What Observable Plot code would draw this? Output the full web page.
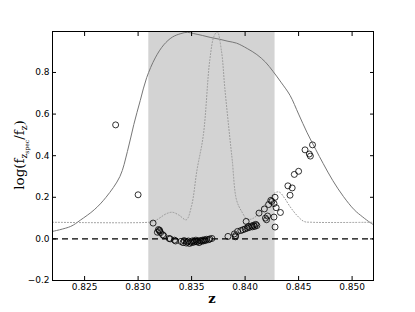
<!DOCTYPE html>
<html>
<head>
<meta charset="utf-8">
<script src="https://cdn.jsdelivr.net/npm/d3@7"></script>
<script src="https://cdn.jsdelivr.net/npm/@observablehq/plot@0.6"></script>
<style>
html,body{margin:0;padding:0;background:#fff;}
#chart{width:415px;height:312px;}
</style>
</head>
<body>
<div id="chart"></div>
<script>
// x tick values and y tick values
const xTicks = [0.825, 0.830, 0.835, 0.840, 0.845, 0.850];
const yTicks = [-0.2, 0.0, 0.2, 0.4, 0.6, 0.8];
// highlighted redshift interval
const spanZ = [0.8310, 0.8428];

// solid curve (filter-like response)
const solidZ = [0.8220,0.8237,0.8246,0.8259,0.8270,0.8283,0.8290,0.8296,0.8302,0.8308,0.8316,0.8324,0.8332,0.8340,0.8346,0.8352,0.8360,0.8368,0.8376,0.8384,0.8392,0.8402,0.8411,0.8419,0.8426,0.8434,0.8442,0.8450,0.8458,0.8466,0.8473,0.8482,0.8492,0.8502,0.8510,0.8517,0.8520];
const solidV = [0.036,0.060,0.090,0.140,0.200,0.300,0.420,0.550,0.665,0.775,0.870,0.933,0.970,0.987,0.993,0.987,0.978,0.968,0.960,0.950,0.941,0.915,0.886,0.850,0.806,0.750,0.690,0.600,0.510,0.430,0.362,0.280,0.203,0.140,0.105,0.078,0.068];

// dotted curve
const dottedZ = [0.8220,0.8310,0.8315,0.8320,0.8326,0.8332,0.8338,0.8345,0.8350,0.8355,0.8361,0.8367,0.8371,0.8374,0.8378,0.8381,0.8386,0.8388,0.8392,0.8397,0.8402,0.8408,0.8415,0.8422,0.8428,0.8432,0.8437,0.8442,0.8449,0.8455,0.8462,0.8520];
const dottedV = [0.080,0.080,0.085,0.100,0.120,0.128,0.115,0.092,0.160,0.330,0.500,0.860,0.975,0.995,0.900,0.727,0.473,0.378,0.187,0.130,0.095,0.100,0.140,0.190,0.222,0.225,0.195,0.155,0.110,0.084,0.080,0.080];

// scatter points
const ptZ = [0.8279,0.8300,0.8314,0.8319,0.8320,0.8318,0.8321,0.8320,0.8323,0.8324,0.8329,0.8330,0.8334,0.8335,0.8340,0.8342,0.8343,0.8345,0.8346,0.8347,0.8348,0.8349,0.8350,0.8351,0.8352,0.8353,0.8354,0.8355,0.8356,0.8357,0.8358,0.8359,0.8360,0.8361,0.8362,0.8363,0.8364,0.8366,0.8367,0.8369,
 0.8384,0.8390,0.8391,0.8391,0.8393,0.8396,0.8398,0.8400,0.8401,0.8402,0.8403,0.8404,0.8406,0.8407,0.8408,0.8409,0.8410,0.8411,0.8413,0.8418,0.8419,0.8420,0.8421,0.8422,0.8424,0.8425,0.8427,0.8428,0.8428,0.8427,0.8429,0.8433,0.8440,0.8442,0.8444,0.8446,0.8450,0.8456,0.8460,0.8461,0.8463];
const ptV = [0.548,0.212,0.076,0.045,0.038,0.032,0.030,0.042,0.020,0.015,0.002,0.000,-0.006,-0.010,-0.012,-0.018,-0.008,-0.020,-0.015,-0.010,-0.022,-0.014,-0.018,-0.009,-0.016,-0.012,-0.006,-0.014,-0.010,-0.018,-0.008,-0.012,-0.006,-0.010,-0.004,-0.008,-0.002,-0.004,0.000,0.002,
 0.012,0.024,0.010,0.016,0.036,0.040,0.044,0.048,0.084,0.052,0.060,0.055,0.062,0.058,0.066,0.060,0.070,0.064,0.124,0.144,0.100,0.092,0.110,0.165,0.185,0.180,0.170,0.200,0.057,0.105,0.150,0.127,0.255,0.210,0.245,0.310,0.325,0.428,0.408,0.398,0.452];

const solid = solidZ.map((z,i)=>({z, v: solidV[i]}));
const dotted = dottedZ.map((z,i)=>({z, v: dottedV[i]}));
const pts = ptZ.map((z,i)=>({z, v: ptV[i]}));

const fmtX = d => d.toFixed(3);
const fmtY = d => (d < 0 ? "\u2212" : "") + Math.abs(d).toFixed(1);

const plot = Plot.plot({
  width: 415,
  height: 312,
  marginLeft: 52,
  marginRight: 42,
  marginTop: 31,
  marginBottom: 32,
  style: {fontFamily: "DejaVu Sans", fontSize: "9px", color: "black", background: "white"},
  x: {domain: [0.822, 0.852]},
  y: {domain: [-0.2, 0.997]},
  marks: [
    Plot.rect([spanZ], {x1: d => d[0], x2: d => d[1], fill: "#d3d3d3"}),
    Plot.line(solid, {x: "z", y: "v", stroke: "#777", strokeWidth: 1, curve: "catmull-rom"}),
    Plot.line(dotted, {x: "z", y: "v", stroke: "#999", strokeWidth: 1, strokeDasharray: "1,2", curve: "catmull-rom"}),
    Plot.ruleY([0], {stroke: "black", strokeWidth: 1.3, strokeDasharray: "6,4"}),
    Plot.dot(pts, {x: "z", y: "v", r: 3, stroke: "black", fill: "none", strokeWidth: 0.8}),
    Plot.axisX(xTicks, {anchor: "bottom", tickSize: -4, tickPadding: 7, tickFormat: fmtX, label: null}),
    Plot.axisX(xTicks, {anchor: "top", tickSize: -4, tickFormat: () => "", label: null}),
    Plot.axisY(yTicks, {anchor: "left", tickSize: -4, tickPadding: 7, tickFormat: fmtY, label: null}),
    Plot.axisY(yTicks, {anchor: "right", tickSize: -4, tickFormat: () => "", label: null}),
    Plot.frame({stroke: "black", strokeWidth: 1})
  ]
});

const svg = d3.select(plot);
// y label
const yl = svg.append("text")
  .attr("transform", "translate(24,155) rotate(-90)")
  .attr("text-anchor", "middle")
  .attr("font-family", "DejaVu Serif")
  .attr("font-size", 13.5)
  .attr("fill", "black");
yl.append("tspan").text("log(f");
yl.append("tspan").attr("font-size", 9).attr("dy", 3).text("z");
yl.append("tspan").attr("font-size", 6).attr("dy", 2).text("spec");
yl.append("tspan").attr("dy", -5).text("/f");
yl.append("tspan").attr("font-size", 9).attr("dy", 3).text("z");
yl.append("tspan").attr("dy", -3).text(")");
// x label
svg.append("text")
  .attr("x", 212).attr("y", 303)
  .attr("text-anchor", "middle")
  .attr("font-family", "DejaVu Serif")
  .attr("font-size", 13)
  .attr("font-weight", "bold")
  .attr("fill", "black")
  .text("z");

document.getElementById("chart").appendChild(plot);
</script>
</body>
</html>
